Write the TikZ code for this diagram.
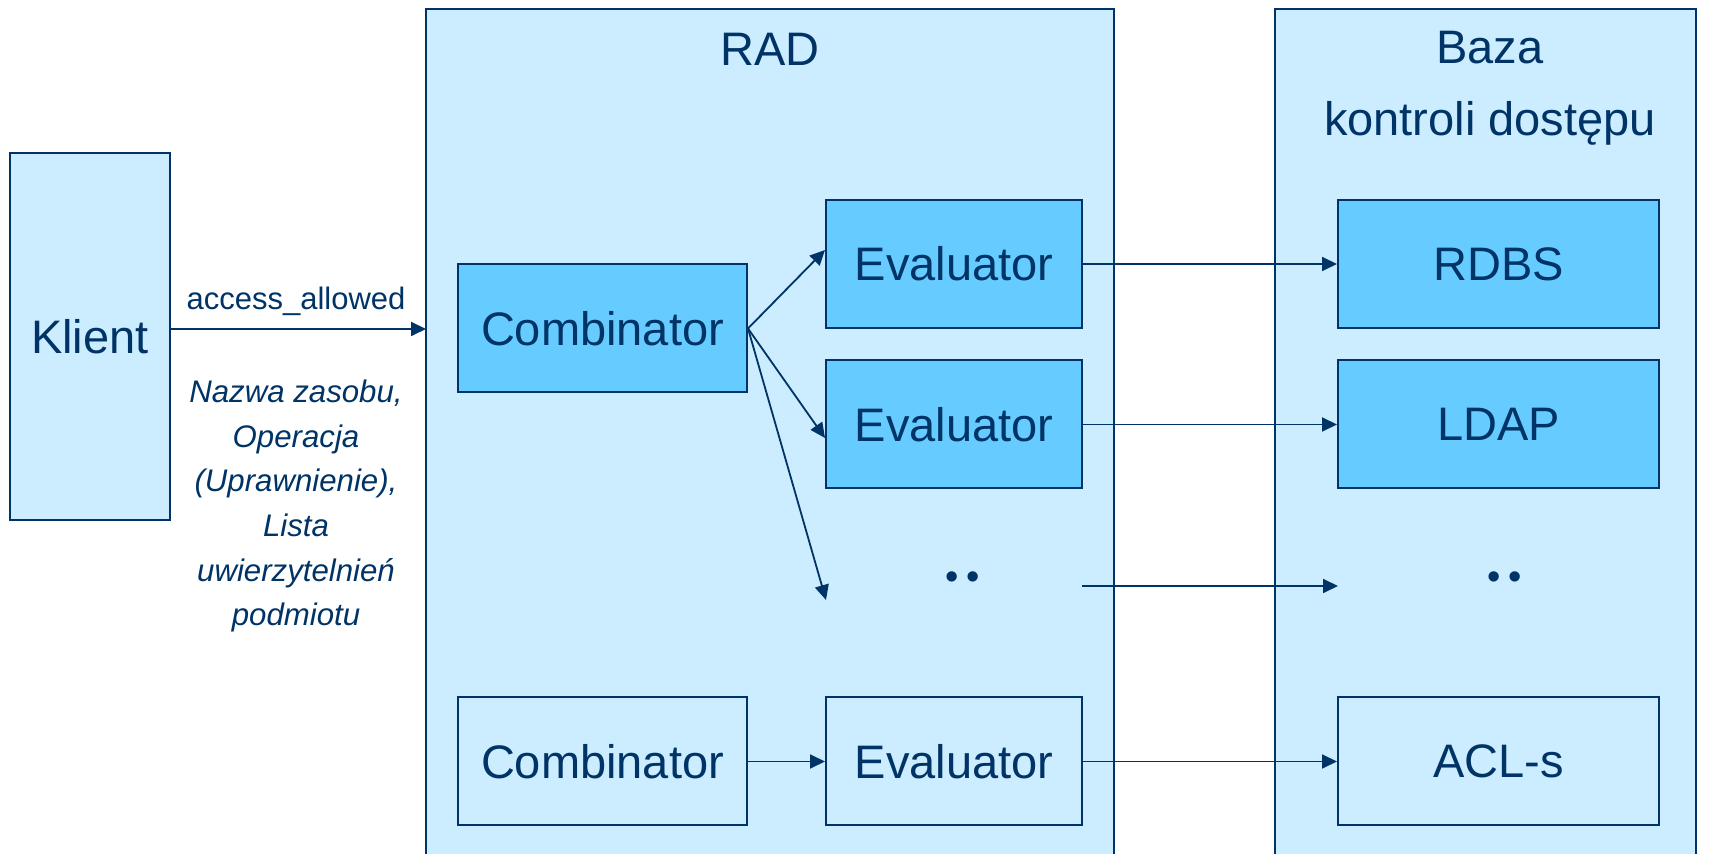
\documentclass[tikz,border=0pt]{standalone}
\usepackage{fontspec}
\setmainfont{Liberation Sans}
\usetikzlibrary{arrows.meta}
\definecolor{lightbg}{HTML}{CCECFF}
\definecolor{midbg}{HTML}{66CCFF}
\definecolor{navy}{HTML}{003366}
\begin{document}
\begin{tikzpicture}[x=0.5pt,y=-0.5pt,
  container/.style={draw=navy,line width=1pt,fill=lightbg},
  bigbox/.style={draw=navy,line width=1pt,fill=midbg,minimum width=128pt,minimum height=64pt,inner sep=0pt,text=navy,font=\fontsize{23.5}{28}\selectfont},
  lightbox/.style={bigbox,fill=lightbg},
  wide/.style={minimum width=144.5pt},
  conn/.style={draw=navy,line width=0.9pt,-{Triangle[length=7.5pt,width=7pt]}},
  title/.style={text=navy,font=\fontsize{23.5}{36}\selectfont,align=center},
  dotsnode/.style={text=navy,font=\fontsize{19}{21}\selectfont,inner sep=0pt,anchor=base}
]
\useasboundingbox (0,0) rectangle (1709,854);
\fill[white] (0,0) rectangle (1709,854);
% containers
\path[container] (426,9) rectangle (1114,870);
\path[container] (1275,9) rectangle (1696,870);
\node[container,minimum width=80pt,minimum height=183.5pt,inner sep=0pt,text=navy,font=\fontsize{23.5}{28}\selectfont] (klient) at (90,336.5) {Klient};
\node[title] (rad) at (770,49) {RAD};
\node[title] (baza) at (1490,88) {Baza\\kontroli dostępu};
% boxes
\node[bigbox,wide] (comb1) at (602.5,328.5) {Combinator};
\node[bigbox] (ev1) at (954,264) {Evaluator};
\node[bigbox] (ev2) at (954,424.5) {Evaluator};
\node[lightbox,wide] (comb2) at (602.5,761.5) {Combinator};
\node[lightbox] (ev3) at (954,761.5) {Evaluator};
\node[bigbox,minimum width=160.5pt] (rdbs) at (1498.5,264) {RDBS};
\node[bigbox,minimum width=160.5pt] (ldap) at (1498.5,424.5) {LDAP};
\node[lightbox,minimum width=160.5pt] (acl) at (1498.5,761.5) {ACL-s};
\node[dotsnode] (dots1) at (963,590) {•\hspace{3.8pt}•};
\node[dotsnode] (dots2) at (1505,590) {•\hspace{3.8pt}•};
\coordinate (dotsA) at (1082,586);
\coordinate (dotsB) at (1338,586);
\coordinate (evx) at (826,600);
% labels
\node[text=navy,font=\fontsize{15.5}{18}\selectfont] (acc) at (296,301) {access\_allowed};
\node[text=navy,font=\itshape\fontsize{15.6}{22.35}\selectfont,align=center] (params) at (296,506) {Nazwa zasobu,\\Operacja\\(Uprawnienie),\\Lista\\uwierzytelnień\\podmiotu};
% connectors
\draw[conn] (klient.east |- 0,329) -- (426,329);
\draw[conn] (comb1.east) -- (ev1.west |- 0,250);
\draw[conn] (comb1.east) -- (ev2.west |- 0,438);
\draw[conn] (comb1.east) -- (evx);
\draw[conn] (comb2) -- (ev3);
\draw[conn] (ev1) -- (rdbs);
\draw[conn] (ev2) -- (ldap);
\draw[conn] (dotsA) -- (dotsB);
\draw[conn] (ev3) -- (acl);
\end{tikzpicture}
\end{document}
